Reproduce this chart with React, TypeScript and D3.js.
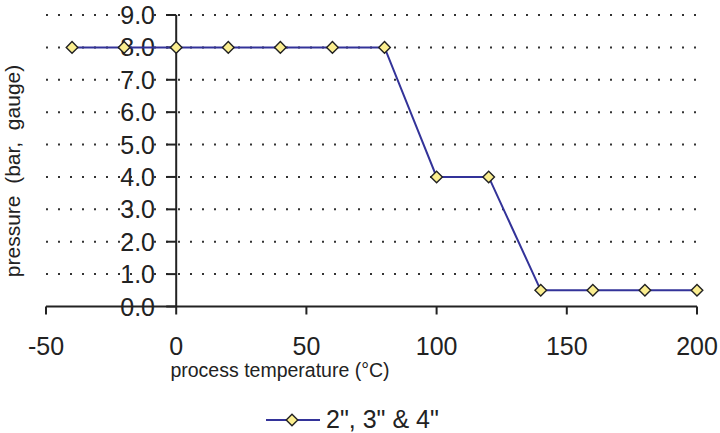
import React from "react";
import * as d3 from "d3";

const temperatures = [-40, -20, 0, 20, 40, 60, 80, 100, 120, 140, 160, 180, 200];
const pressures = [8, 8, 8, 8, 8, 8, 8, 4, 4, 0.5, 0.5, 0.5, 0.5];
const xTicks = [-50, 0, 50, 100, 150, 200];
const yTicks = [0, 1, 2, 3, 4, 5, 6, 7, 8, 9];
const seriesName = '2", 3" & 4"';
const xTitle = "process temperature (°C)";
const yTitle = "pressure  (bar,  gauge)";

const W = 720;
const H = 433;
const FONT = "'Liberation Sans', Arial, Helvetica, sans-serif";

export default function App() {
  const x = d3.scaleLinear().domain([-50, 200]).range([46, 697]);
  const y = d3.scaleLinear().domain([0, 9]).range([306.5, 15]);
  const data = temperatures.map((t, i) => ({ t, p: pressures[i] }));
  const line = d3
    .line<{ t: number; p: number }>()
    .x((d) => x(d.t))
    .y((d) => y(d.p));
  const diamond = (cx: number, cy: number, r: number) =>
    `M${cx},${cy - r}L${cx + r},${cy}L${cx},${cy + r}L${cx - r},${cy}Z`;
  const x0 = x(0);

  return (
    <svg
      width={W}
      height={H}
      style={{ position: "absolute", left: 0, top: 0, background: "#fff" }}
      fontFamily={FONT}
    >
      {/* gridlines */}
      {yTicks
        .filter((v) => v > 0)
        .map((v) => (
          <line
            key={"g" + v}
            x1={x(-50)}
            x2={x(200)}
            y1={y(v)}
            y2={y(v)}
            stroke="#333"
            strokeWidth={2}
            strokeDasharray="2,10"
          />
        ))}
      {/* y tick labels */}
      {yTicks.map((v) => (
        <text
          key={"yl" + v}
          x={155}
          y={y(v) + 9}
          fontSize={25}
          textAnchor="end"
          fill="#222"
        >
          {v.toFixed(1)}
        </text>
      ))}
      {/* y axis */}
      <line x1={x0} x2={x0} y1={y(9)} y2={y(0)} stroke="#222" strokeWidth={2} />
      {yTicks.map((v) => (
        <line
          key={"yt" + v}
          x1={x0 - 10}
          x2={x0}
          y1={y(v)}
          y2={y(v)}
          stroke="#222"
          strokeWidth={2}
        />
      ))}
      {/* x axis */}
      <line x1={x(-50)} x2={x(200)} y1={y(0)} y2={y(0)} stroke="#222" strokeWidth={2} />
      {xTicks.map((v) => (
        <g key={"xt" + v}>
          <line
            x1={x(v)}
            x2={x(v)}
            y1={y(0)}
            y2={y(0) + 8}
            stroke="#222"
            strokeWidth={2}
          />
          <text
            x={x(v)}
            y={355}
            fontSize={25}
            textAnchor="middle"
            fill="#222"
          >
            {v}
          </text>
        </g>
      ))}
      {/* series */}
      <path d={line(data) || ""} fill="none" stroke="#333399" strokeWidth={2} />
      {data.map((d, i) => (
        <path
          key={"m" + i}
          d={diamond(x(d.t), y(d.p), 5.8)}
          fill="#FBEE8F"
          stroke="#222"
          strokeWidth={1.4}
        />
      ))}
      {/* axis titles */}
      <text x={280} y={377} fontSize={19.5} textAnchor="middle" fill="#222">
        {xTitle}
      </text>
      <text
        transform={`translate(20,171) rotate(-90)`}
        fontSize={21}
        textAnchor="middle"
        fill="#222"
        style={{ whiteSpace: "pre" }}
      >
        {yTitle}
      </text>
      {/* legend */}
      <line x1={266} x2={320} y1={420} y2={420} stroke="#333399" strokeWidth={2} />
      <path d={diamond(292, 420, 5.8)} fill="#FBEE8F" stroke="#222" strokeWidth={1.4} />
      <text x={326} y={428} fontSize={25} fill="#222">
        {seriesName}
      </text>
    </svg>
  );
}
